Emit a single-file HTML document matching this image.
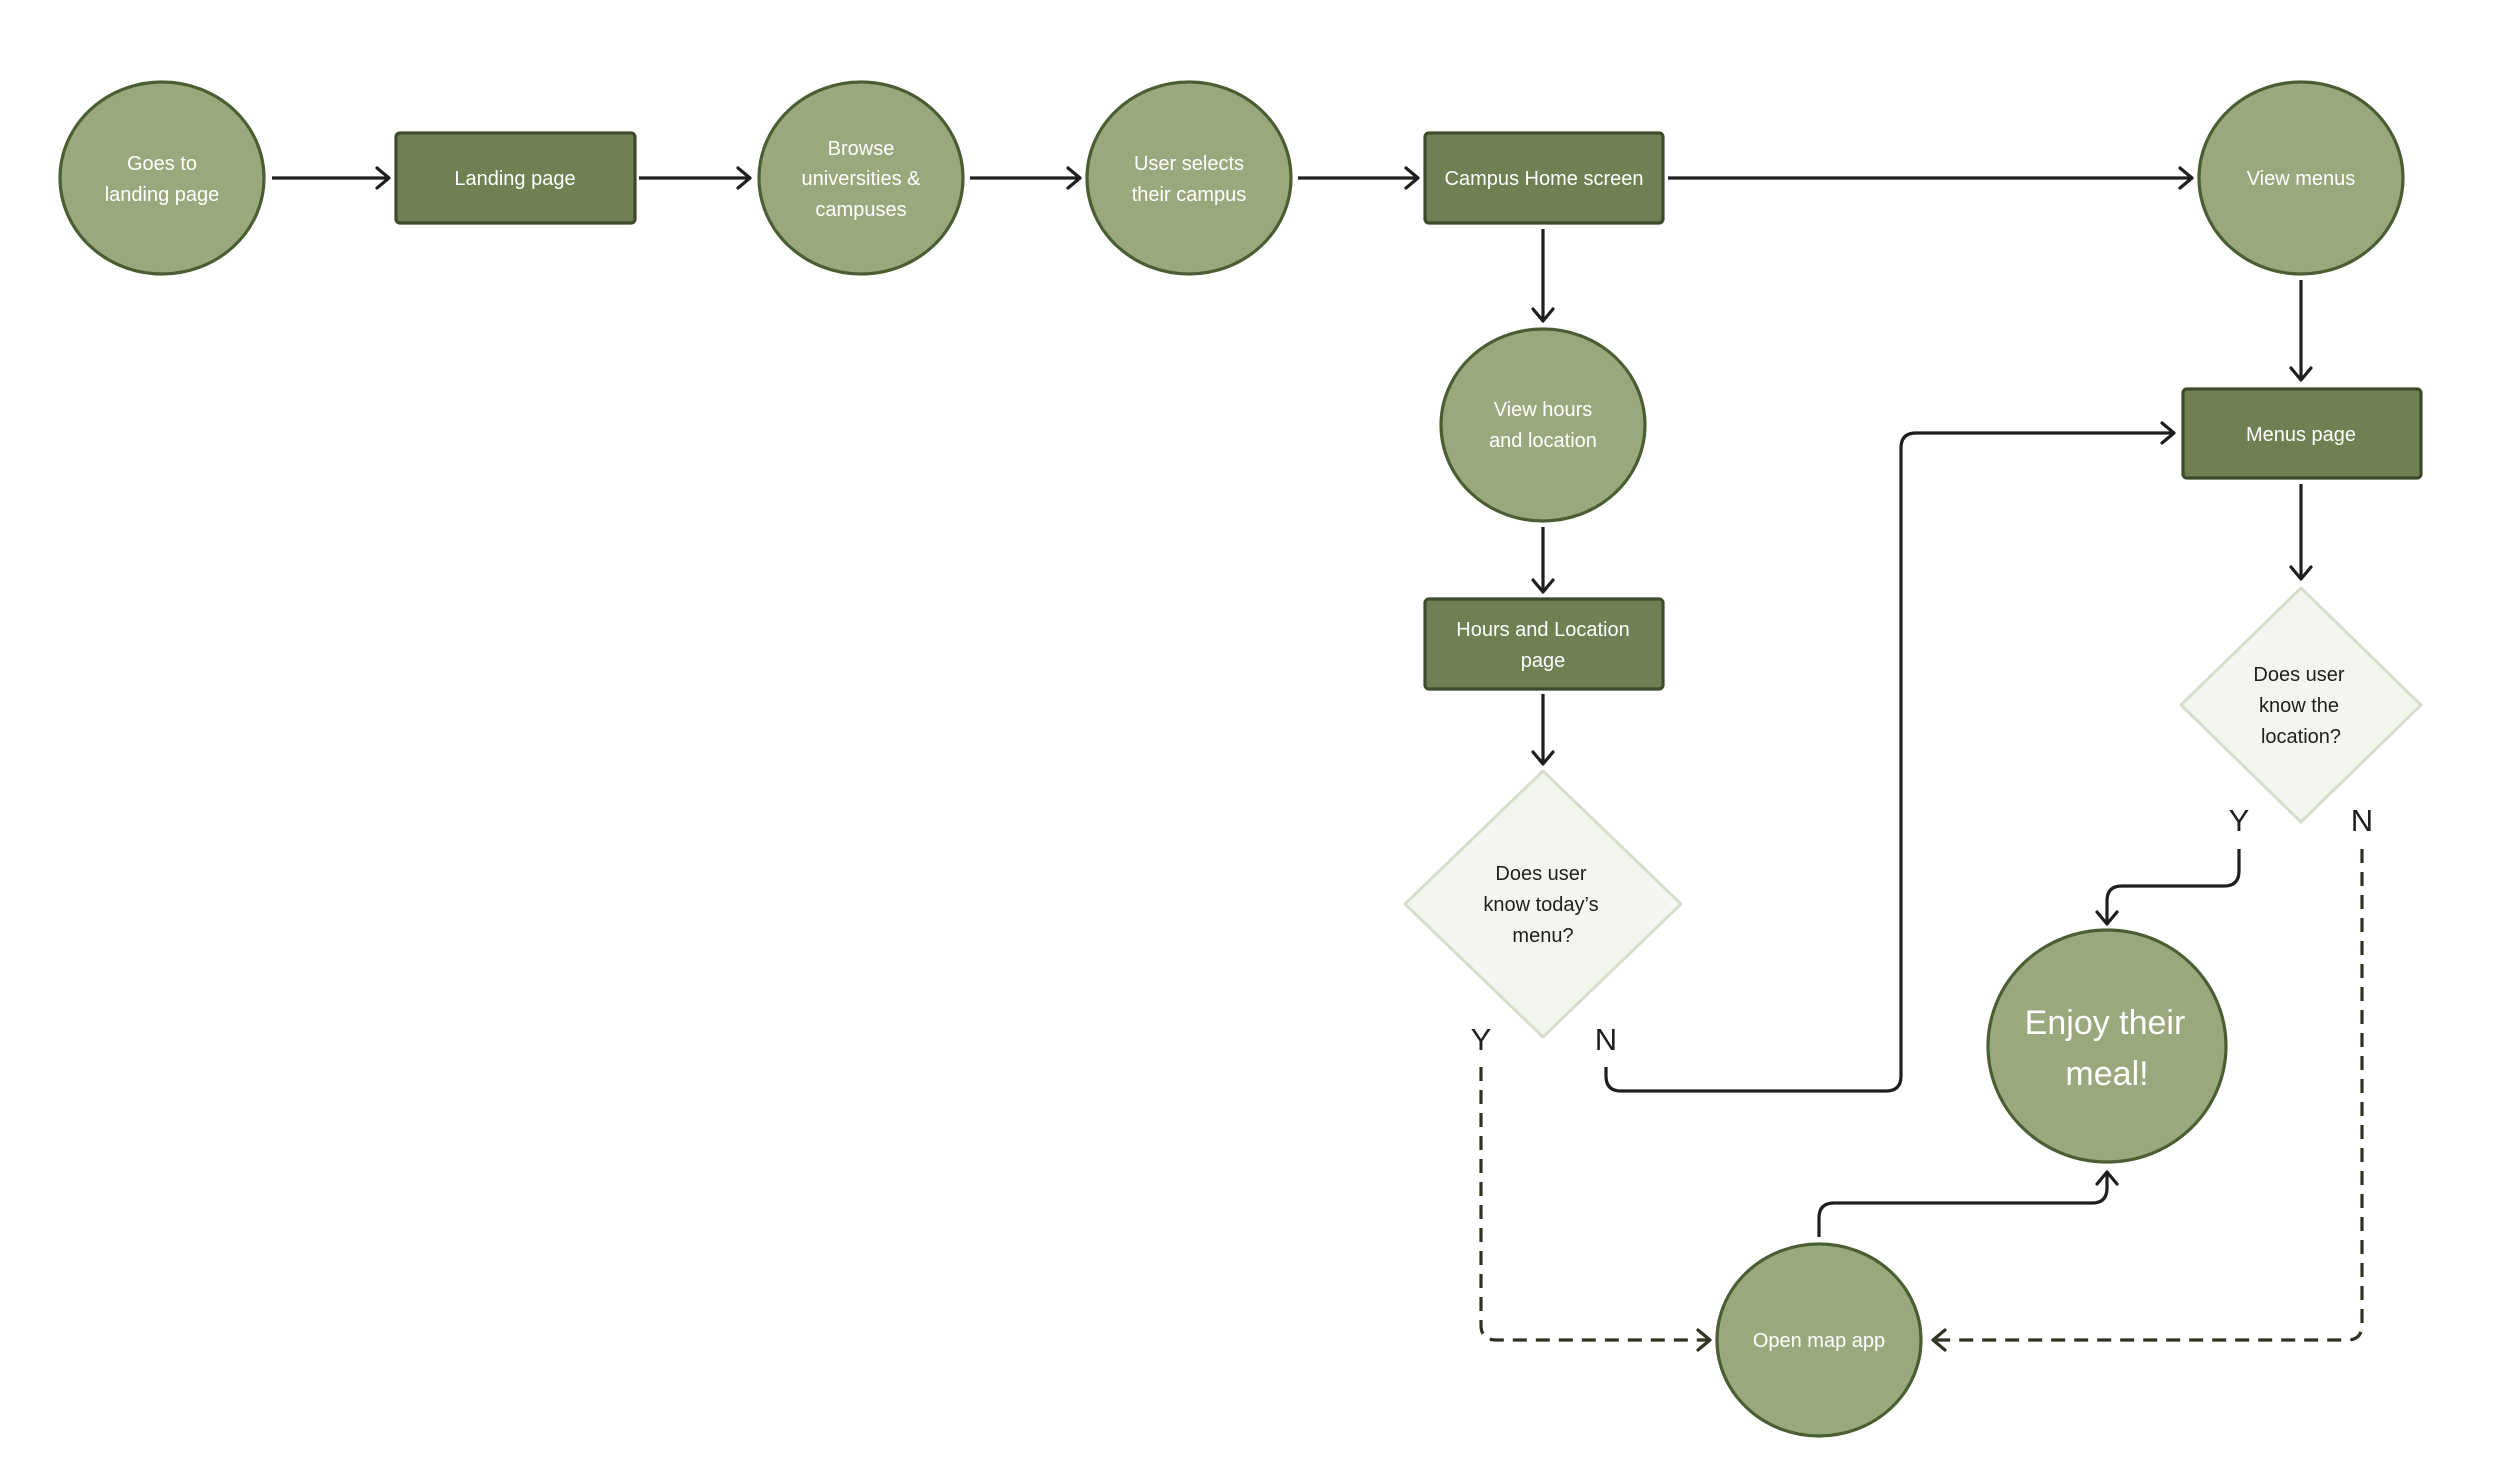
<!DOCTYPE html>
<html><head><meta charset="utf-8"><style>
html,body{margin:0;padding:0;background:#fff;}
svg{display:block;}
text{font-family:"Liberation Sans",sans-serif;}
</style></head><body>
<svg width="2500" height="1476" viewBox="0 0 2500 1476" xmlns="http://www.w3.org/2000/svg">
<defs>
<marker id="a" markerWidth="20" markerHeight="24" refX="16" refY="12" orient="auto" markerUnits="userSpaceOnUse">
<path d="M4,2 L16,12 L4,22" fill="none" stroke="#1e1e1e" stroke-width="3.2" stroke-linecap="round" stroke-linejoin="round"/>
</marker>
<marker id="ad" markerWidth="20" markerHeight="24" refX="16" refY="12" orient="auto" markerUnits="userSpaceOnUse">
<path d="M4,2 L16,12 L4,22" fill="none" stroke="#2e3322" stroke-width="3.2" stroke-linecap="round" stroke-linejoin="round"/>
</marker>
</defs>
<g fill="none" stroke="#1e1e1e" stroke-width="3.2">
<line x1="272" y1="178" x2="389" y2="178" marker-end="url(#a)"/>
<line x1="639" y1="178" x2="750" y2="178" marker-end="url(#a)"/>
<line x1="970" y1="178" x2="1080" y2="178" marker-end="url(#a)"/>
<line x1="1298" y1="178" x2="1418" y2="178" marker-end="url(#a)"/>
<line x1="1668" y1="178" x2="2192" y2="178" marker-end="url(#a)"/>
<line x1="1543" y1="229" x2="1543" y2="321" marker-end="url(#a)"/>
<line x1="1543" y1="527" x2="1543" y2="592" marker-end="url(#a)"/>
<line x1="1543" y1="694" x2="1543" y2="764" marker-end="url(#a)"/>
<line x1="2301" y1="280" x2="2301" y2="380" marker-end="url(#a)"/>
<line x1="2301" y1="484" x2="2301" y2="579" marker-end="url(#a)"/>
<path d="M1606,1067 V1076 Q1606,1091 1621,1091 H1886 Q1901,1091 1901,1076 V448 Q1901,433 1916,433 H2174" marker-end="url(#a)"/>
<path d="M2239,849 V871 Q2239,886 2224,886 H2122 Q2107,886 2107,901 V924" marker-end="url(#a)"/>
<path d="M1819,1237 V1218 Q1819,1203 1834,1203 H2092 Q2107,1203 2107,1188 V1172" marker-end="url(#a)"/>
</g>
<g fill="none" stroke="#2e3322" stroke-width="3.2" stroke-dasharray="14,9">
<path d="M1481,1067 V1325 Q1481,1340 1496,1340 H1710" marker-end="url(#ad)"/>
<path d="M2362,849 V1325 Q2362,1340 2347,1340 H1933" marker-end="url(#ad)"/>
</g>
<g fill="#9aa97d" stroke="#4b5e33" stroke-width="3.2">
<ellipse cx="162" cy="178" rx="102" ry="96"/>
<ellipse cx="861" cy="178" rx="102" ry="96"/>
<ellipse cx="1189" cy="178" rx="102" ry="96"/>
<ellipse cx="2301" cy="178" rx="102" ry="96"/>
<ellipse cx="1543" cy="425" rx="102" ry="96"/>
<ellipse cx="2107" cy="1046" rx="119" ry="116"/>
<ellipse cx="1819" cy="1340" rx="102" ry="96"/>
</g>
<g fill="#6f8052" stroke="#3d4a2b" stroke-width="3.2">
<rect x="396" y="133" width="239" height="90" rx="4"/>
<rect x="1425" y="133" width="238" height="90" rx="4"/>
<rect x="2183" y="389" width="238" height="89" rx="4"/>
<rect x="1425" y="599" width="238" height="90" rx="4"/>
</g>
<g fill="#f3f5ef" stroke="#d6ddcc" stroke-width="3" stroke-linejoin="round">
<polygon points="1543,771 1681,904 1543,1037 1405,904"/>
<polygon points="2301,588 2421,705 2301,822 2181,705"/>
</g>
<g fill="#ffffff" font-size="20" text-anchor="middle">
<text x="162" y="170">Goes to</text><text x="162" y="201">landing page</text>
<text x="515" y="185">Landing page</text>
<text x="861" y="155">Browse</text><text x="861" y="185">universities &amp;</text><text x="861" y="216">campuses</text>
<text x="1189" y="170">User selects</text><text x="1189" y="201">their campus</text>
<text x="1544" y="185">Campus Home screen</text>
<text x="2301" y="185">View menus</text>
<text x="1543" y="416">View hours</text><text x="1543" y="447">and location</text>
<text x="2301" y="441">Menus page</text>
<text x="1543" y="636">Hours and Location</text><text x="1543" y="667">page</text>
<text x="1819" y="1347">Open map app</text>
<text x="2105" y="1034" font-size="34">Enjoy their</text><text x="2107" y="1085" font-size="34">meal!</text>
</g>
<g fill="#1e1e1e" font-size="20" text-anchor="middle">
<text x="1541" y="880">Does user</text><text x="1541" y="911">know today’s</text><text x="1543" y="942">menu?</text>
<text x="2299" y="681">Does user</text><text x="2299" y="712">know the</text><text x="2301" y="743">location?</text>
</g>
<g fill="#1e1e1e" font-size="31" text-anchor="middle">
<text x="1481" y="1050">Y</text><text x="1606" y="1050">N</text>
<text x="2239" y="831">Y</text><text x="2362" y="831">N</text>
</g>
</svg>
</body></html>
